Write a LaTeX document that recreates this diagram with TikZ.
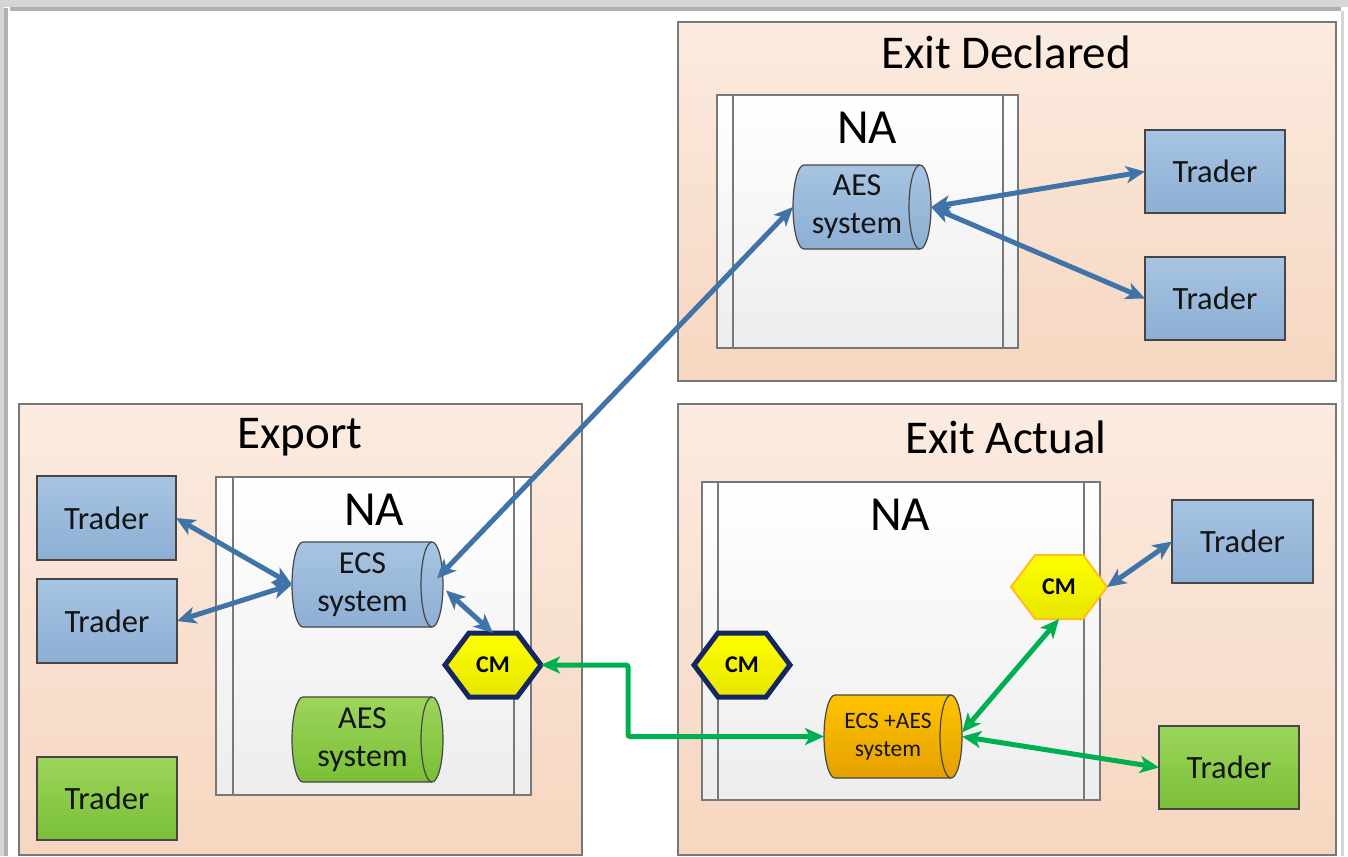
\documentclass[tikz,border=0pt]{standalone}
\usepackage{fontspec}
\setmainfont{Carlito}
\usetikzlibrary{arrows.meta}
\definecolor{secTop}{RGB}{251,235,224}
\definecolor{secBot}{RGB}{246,214,192}
\definecolor{naBot}{RGB}{237,237,237}
\definecolor{bluTop}{RGB}{167,196,226}
\definecolor{bluBot}{RGB}{141,175,212}
\definecolor{grnTop}{RGB}{156,213,92}
\definecolor{grnBot}{RGB}{122,191,54}
\definecolor{orTop}{RGB}{255,196,0}
\definecolor{orBot}{RGB}{228,160,0}
\definecolor{yelTop}{RGB}{255,255,0}
\definecolor{yelBot}{RGB}{230,230,0}
\definecolor{navy}{RGB}{22,38,96}
\definecolor{cmOrange}{RGB}{255,190,30}
\definecolor{arrBlue}{RGB}{64,115,168}
\definecolor{arrGreen}{RGB}{0,176,80}
\definecolor{boxLine}{RGB}{120,120,120}
\definecolor{darkLine}{RGB}{70,70,70}
\definecolor{frameLight}{RGB}{214,214,214}
\definecolor{frameDark}{RGB}{176,176,176}
\definecolor{txt}{RGB}{20,20,20}

\newcommand\rectnode[7]{\node[#1, anchor=north west, outer sep=0pt, inner sep=0pt,
  minimum width={(#5-#3)*1pt}, minimum height={(#6-#4)*1pt}] (#2) at (#3,#4) {#7};}

% cylinder: name, x0, y0, x1, y1, fill style, font style, text
\newcommand\cylnd[8]{%
  \path[#6, draw=darkLine, line width=1.2pt]
    ({#2+11},#3) -- ({#4-11},#3)
    arc[start angle=90, end angle=-90, x radius=11pt, y radius={(#5-#3)/2*1pt}]
    -- ({#2+11},#5)
    arc[start angle=270, end angle=90, x radius=11pt, y radius={(#5-#3)/2*1pt}] -- cycle;
  \draw[darkLine, line width=1.2pt] ({#4-11},#3)
    arc[start angle=90, end angle=270, x radius=11pt, y radius={(#5-#3)/2*1pt}];
  \rectnode{draw=none}{#1}{#2}{#3}{#4}{#5}{}
  \node[#7, align=center, inner sep=0pt] (#1-txt) at ({(#2+#4)/2-5},{(#3+#5)/2}) {#8};
}

% hexagon CM: name, cx, cy, style
\newcommand\hexcm[4]{%
  \path[#4, top color=yelTop, bottom color=yelBot]
    ({#2-48},#3) -- ({#2-24},{#3-32}) -- ({#2+24},{#3-32}) -- ({#2+48},#3)
    -- ({#2+24},{#3+32}) -- ({#2-24},{#3+32}) -- cycle;
  \node[cmtext, minimum width=96pt, minimum height=64pt, inner sep=0pt, outer sep=0pt] (#1) at (#2,#3) {CM};
}

\begin{document}
\begin{tikzpicture}[x=1pt, y=-1pt,
  section/.style={draw=boxLine, line width=1.5pt, top color=secTop, bottom color=secBot},
  napool/.style={draw=boxLine, line width=1.5pt, top color=white, bottom color=naBot},
  naline/.style={draw=boxLine, line width=1.5pt},
  traderB/.style={draw=darkLine, line width=1.5pt, top color=bluTop, bottom color=bluBot,
    text=txt, font=\fontsize{32.5}{38}\selectfont},
  traderG/.style={draw=darkLine, line width=1.5pt, top color=grnTop, bottom color=grnBot,
    text=txt, font=\fontsize{32.5}{38}\selectfont},
  titletext/.style={text=black, font=\fontsize{47}{56}\selectfont, inner sep=0pt},
  natext/.style={text=black, font=\fontsize{49}{58}\selectfont, inner sep=0pt},
  cylbig/.style={text=txt, font=\fontsize{32}{38}\selectfont},
  cylsmall/.style={text=txt, font=\fontsize{23.5}{28}\selectfont},
  cylBlue/.style={top color=bluTop, bottom color=bluBot},
  cylGreen/.style={top color=grnTop, bottom color=grnBot},
  cylOrange/.style={top color=orTop, bottom color=orBot},
  cmtext/.style={text=black, font=\fontsize{24}{28}\bfseries\selectfont},
  cmNavy/.style={draw=navy, line width=5pt},
  cmOr/.style={draw=cmOrange, line width=2pt},
  tipB/.tip={Stealth[length=19pt, width=17pt, inset=5pt]},
  bluarrow/.style={draw=arrBlue, line width=5pt, tipB-tipB},
  grnarrow/.style={draw=arrGreen, line width=5pt, tipB-tipB, rounded corners=2pt}
]
\useasboundingbox (0,0) rectangle (1348,856);
\fill[white] (0,0) rectangle (1348,856);
% frame
\fill[frameLight] (0,0) rectangle (1348,7);
\fill[frameDark] (10,7) rectangle (1341,11);
\fill[frameLight] (0,0) rectangle (4,856);
\fill[frameDark] (4,8) rectangle (8,856);
\fill[frameLight] (1341,11) rectangle (1344,856);

% sections
\rectnode{section}{secED}{678}{22}{1336}{381}{}
\rectnode{section}{secEX}{19}{404}{582}{855}{}
\rectnode{section}{secEA}{678}{404}{1336}{855}{}
\node[titletext] (ttED) at (1006,52) {Exit Declared};
\node[titletext] (ttEX) at (300,437) {Export};
\node[titletext] (ttEA) at (1006,437) {Exit Actual};

% NA pools
\rectnode{napool}{naED}{717}{95}{1018}{348}{}
\draw[naline] ([xshift=16pt]naED.north west) -- ([xshift=16pt]naED.south west);
\draw[naline] ([xshift=-15pt]naED.north east) -- ([xshift=-15pt]naED.south east);
\node[natext] (naEDt) at (867,128) {NA};

\rectnode{napool}{naEX}{216}{477}{531}{795}{}
\draw[naline] ([xshift=17pt]naEX.north west) -- ([xshift=17pt]naEX.south west);
\draw[naline] ([xshift=-17pt]naEX.north east) -- ([xshift=-17pt]naEX.south east);
\node[natext] (naEXt) at (374,510) {NA};

\rectnode{napool}{naEA}{702}{482}{1100}{800}{}
\draw[naline] ([xshift=16pt]naEA.north west) -- ([xshift=16pt]naEA.south west);
\draw[naline] ([xshift=-16pt]naEA.north east) -- ([xshift=-16pt]naEA.south east);
\node[natext] (naEAt) at (900,515) {NA};

% cylinders
\cylnd{aesED}{793}{165}{931}{249}{cylBlue}{cylbig}{AES\\system}
\cylnd{ecs}{292}{542}{443}{627}{cylBlue}{cylbig}{ECS\\system}
\cylnd{aesEX}{292}{697}{443}{782}{cylGreen}{cylbig}{AES\\system}
\cylnd{eca}{824}{695}{962}{778}{cylOrange}{cylsmall}{ECS +AES\\system}

% CM hexagons
\hexcm{cmEX}{493}{665}{cmNavy}
\hexcm{cmEAl}{742}{665}{cmNavy}
\hexcm{cmEAr}{1059}{587}{cmOr}

% traders
\rectnode{traderB}{tED1}{1145}{130}{1285}{213}{Trader}
\rectnode{traderB}{tED2}{1145}{257}{1285}{340}{Trader}
\rectnode{traderB}{tEX1}{37}{476}{176}{560}{Trader}
\rectnode{traderB}{tEX2}{37}{579}{177}{663}{Trader}
\rectnode{traderG}{tEX3}{37}{757}{177}{840}{Trader}
\rectnode{traderB}{tEA1}{1172}{500}{1313}{583}{Trader}
\rectnode{traderG}{tEA2}{1159}{726}{1299}{809}{Trader}

% connectors
\draw[bluarrow] (tEX1.east) -- (ecs.west);
\draw[bluarrow] (tEX2.east) -- (ecs.west);
\draw[bluarrow] ([xshift=-6pt,yshift=6pt]ecs.east) -- (aesED.west);
\draw[bluarrow] ([xshift=3pt,yshift=-6pt]ecs.east) -- (cmEX.north);
\draw[bluarrow] (aesED.east) -- (tED1.west);
\draw[bluarrow] (aesED.east) -- (tED2.west);
\draw[bluarrow] (cmEAr.east) -- (tEA1.west);
\coordinate (gbend) at (628,700);
\draw[grnarrow] (cmEX.east) -| (gbend) |- (eca.west);
\draw[grnarrow] ([yshift=4pt]eca.east) -- (cmEAr.south);
\draw[grnarrow] (eca.east) -- (tEA2.west);
\end{tikzpicture}
\end{document}
